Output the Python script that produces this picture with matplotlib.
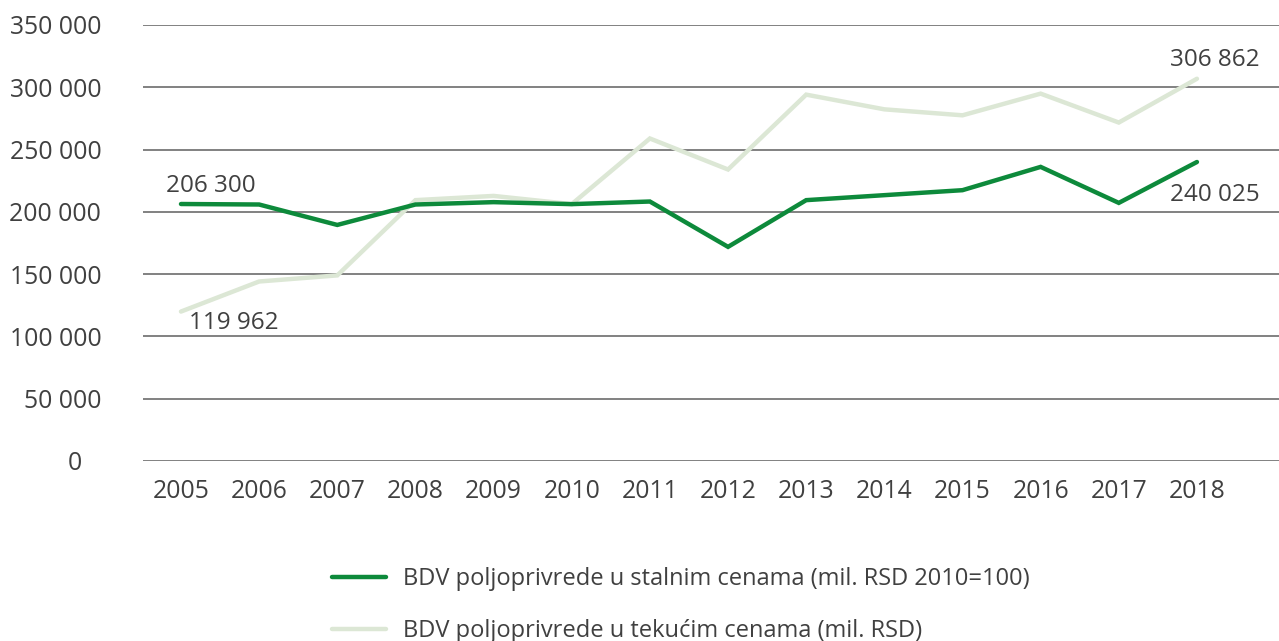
import matplotlib
matplotlib.use("Agg")
import matplotlib.pyplot as plt
from matplotlib.ticker import FuncFormatter

# podaci
godine = ["2005", "2006", "2007", "2008", "2009", "2010", "2011",
          "2012", "2013", "2014", "2015", "2016", "2017", "2018"]
stalne_cene = [206300, 205900, 189500, 205900, 207800, 206200, 208300,
               171900, 209400, 213400, 217400, 236100, 207200, 240025]
tekuce_cene = [119962, 144100, 149000, 209400, 212800, 206200, 258900,
               234000, 294100, 282300, 277500, 294900, 271700, 306862]
naziv_stalne = "BDV poljoprivrede u stalnim cenama (mil. RSD 2010=100)"
naziv_tekuce = "BDV poljoprivrede u tekućim cenama (mil. RSD)"

tamno_zelena = "#0d8a3b"
svetlo_zelena = "#dce7d5"
siva_tekst = "#404040"

plt.rcParams['font.family'] = ['Open Sans', 'DejaVu Sans']

fig = plt.figure(figsize=(12.79, 6.41), dpi=100)
ax = fig.add_axes([143 / 1279, 1 - 461 / 641, 1 - 143 / 1279, (461 - 25) / 641])

x = list(range(len(godine)))
ax.plot(x, stalne_cene, color=tamno_zelena, lw=3.2, solid_capstyle='round',
        solid_joinstyle='miter', label=naziv_stalne, zorder=4)
ax.plot(x, tekuce_cene, color=svetlo_zelena, lw=3.2, solid_capstyle='round',
        solid_joinstyle='miter', label=naziv_tekuce, zorder=3)

ax.set_ylim(0, 350000)
ax.set_xlim(-0.486, 14.05)
ax.set_yticks(range(0, 350001, 50000))
ax.set_xticks(x)
ax.set_xticklabels(godine)


def format_hiljade(v, pos):
    s = f"{int(v):,}".replace(",", " ")
    if v == 0:
        s += "   "
    return s


ax.yaxis.set_major_formatter(FuncFormatter(format_hiljade))
ax.grid(axis='y', color='#5f5f5f', lw=1.1)
ax.set_axisbelow(True)
for s in ax.spines.values():
    s.set_visible(False)
ax.tick_params(axis='both', length=0, labelsize=17.8, colors=siva_tekst)
ax.tick_params(axis='y', pad=30)
ax.tick_params(axis='x', pad=13)

# oznake vrednosti
kw = dict(textcoords='offset points', ha='center', va='center',
          fontsize=17.5, color=siva_tekst)
ax.annotate("206 300", (0, stalne_cene[0]), xytext=(21.6, 13.1), **kw)
ax.annotate("119 962", (0, tekuce_cene[0]), xytext=(37.9, -8.1), **kw)
ax.annotate("306 862", (13, tekuce_cene[-1]), xytext=(12.7, 13.2), **kw)
ax.annotate("240 025", (13, stalne_cene[-1]), xytext=(12.7, -23.5), **kw)

leg = fig.legend(loc='center left', bbox_to_anchor=(332 / 1279, 1 - 605 / 641),
                 frameon=False, fontsize=17, handlelength=2.3,
                 handletextpad=0.7, labelspacing=1.17, borderpad=0,
                 borderaxespad=0)
for t in leg.get_texts():
    t.set_color(siva_tekst)

fig.savefig("out.png", dpi=100)
